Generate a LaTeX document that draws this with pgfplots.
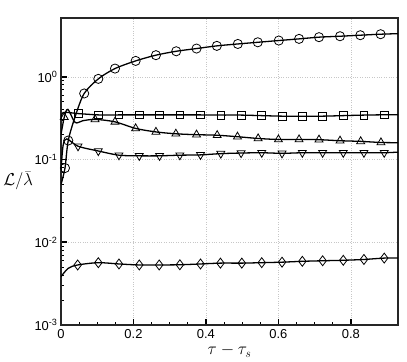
\documentclass[border=0pt]{standalone}
\usepackage{pgfplots}
\pgfplotsset{compat=1.18}
\usepackage{fontspec}
\setmainfont{Liberation Sans}

\begin{document}
\begin{tikzpicture}
\useasboundingbox (-61bp,-37bp) rectangle (346bp,325bp);
\begin{axis}[
    scale only axis,
    width=337bp, height=307bp,
    ymode=log,
    xmin=0, xmax=0.93,
    ymin=1e-3, ymax=5.15,
    xtick={0,0.2,0.4,0.6,0.8},
    xticklabels={0,0.2,0.4,0.6,0.8},
    minor x tick num=3,
    ytick={1e-3,1e-2,1e-1,1},
    yticklabels={10\textsuperscript{-3},10\textsuperscript{-2},10\textsuperscript{-1},10\textsuperscript{0}},
    tick label style={font=\fontsize{13}{15}\selectfont},
    xticklabel style={yshift=-1bp},
    tick align=inside,
    xtick pos=bottom, ytick pos=left,
    major tick length=6bp, minor tick length=3.5bp,
    every tick/.style={black, line width=1pt},
    every major tick/.append style={line width=1.6pt},
    axis line style={line width=1.6pt, black!85},
    grid=major,
    major grid style={black!22, dotted, line width=0.6pt},
    xlabel={$\tau-\tau_s$},
    xlabel style={font=\fontsize{17}{19}\selectfont, at={(axis description cs:0.50,-0.085)}, anchor=center},
    ylabel={$\mathcal{L}/\bar{\lambda}$},
    ylabel style={font=\fontsize{16}{18}\selectfont, rotate=-90, at={(axis description cs:-0.127,0.47)}, anchor=center},
    every axis plot/.append style={black},
]
% circles
\addplot[line width=1.3pt, smooth, tension=0.5, no marks] coordinates {
(0,0.05) (0.011,0.079) (0.020,0.17) (0.04,0.34) (0.064,0.63) (0.103,0.946)
(0.149,1.26) (0.206,1.56) (0.262,1.83) (0.318,2.04) (0.374,2.20) (0.430,2.37)
(0.488,2.50) (0.543,2.62) (0.601,2.75) (0.657,2.88) (0.712,3.02) (0.770,3.10)
(0.826,3.19) (0.882,3.28) (0.93,3.33)};
\addplot[only marks, mark=o, mark size=4.6pt, mark options={line width=0.8pt, fill=none}] coordinates {
(0.011,0.079) (0.020,0.17) (0.064,0.63) (0.103,0.946) (0.149,1.26) (0.206,1.56)
(0.262,1.83) (0.318,2.04) (0.374,2.20) (0.430,2.37) (0.488,2.50) (0.543,2.62)
(0.601,2.75) (0.657,2.88) (0.712,3.02) (0.770,3.10) (0.826,3.19) (0.882,3.28)};
% squares
\addplot[line width=1.3pt, smooth, tension=0.5, no marks] coordinates {
(0,0.30) (0.006,0.37) (0.047,0.36) (0.103,0.347) (0.160,0.347) (0.216,0.347)
(0.272,0.347) (0.328,0.347) (0.385,0.347) (0.441,0.345) (0.497,0.345) (0.554,0.34)
(0.610,0.335) (0.666,0.335) (0.722,0.335) (0.779,0.34) (0.836,0.345) (0.892,0.348)
(0.93,0.348)};
\addplot[only marks, mark=square, mark size=3.9pt, mark options={line width=0.8pt, fill=none}] coordinates {
(0.047,0.36) (0.103,0.347) (0.160,0.347) (0.216,0.347) (0.272,0.347) (0.328,0.347)
(0.385,0.347) (0.441,0.345) (0.497,0.345) (0.554,0.34) (0.610,0.335) (0.666,0.335)
(0.722,0.335) (0.779,0.34) (0.836,0.345) (0.892,0.348)};
% triangles
\addplot[line width=1.3pt, smooth, tension=0.5, no marks] coordinates {
(0,0.2) (0.009,0.325) (0.019,0.405) (0.039,0.281) (0.06,0.295) (0.094,0.306)
(0.149,0.286) (0.206,0.238) (0.262,0.216) (0.317,0.205) (0.374,0.200) (0.431,0.197)
(0.487,0.189) (0.544,0.180) (0.600,0.175) (0.657,0.175) (0.712,0.174) (0.770,0.169)
(0.827,0.166) (0.883,0.161) (0.93,0.160)};
\addplot[only marks, mark=triangle, mark size=4.6pt, mark options={line width=0.8pt, fill=none}] coordinates {
(0.009,0.325) (0.094,0.306) (0.149,0.286) (0.206,0.238) (0.262,0.216) (0.317,0.205)
(0.374,0.200) (0.431,0.197) (0.487,0.189) (0.544,0.180) (0.600,0.175) (0.657,0.175)
(0.712,0.174) (0.770,0.169) (0.827,0.166) (0.883,0.161)};
% inverted triangles
\addplot[line width=1.3pt, smooth, tension=0.5, no marks] coordinates {
(0,0.075) (0.006,0.15) (0.016,0.178) (0.047,0.145) (0.103,0.127) (0.160,0.113)
(0.216,0.111) (0.272,0.111) (0.328,0.113) (0.385,0.114) (0.441,0.118) (0.497,0.120)
(0.554,0.121) (0.610,0.119) (0.666,0.121) (0.722,0.121) (0.779,0.121) (0.836,0.121)
(0.892,0.121) (0.93,0.123)};
\addplot[only marks, mark=triangle, mark size=4.6pt, mark options={rotate=180, line width=0.8pt, fill=none}] coordinates {
(0.047,0.145) (0.103,0.127) (0.160,0.113) (0.216,0.111) (0.272,0.111) (0.328,0.113)
(0.385,0.114) (0.441,0.118) (0.497,0.120) (0.554,0.121) (0.610,0.119) (0.666,0.121)
(0.722,0.121) (0.779,0.121) (0.836,0.121) (0.892,0.121)};
% diamonds
\addplot[line width=1.3pt, smooth, tension=0.5, no marks] coordinates {
(0,0.00384) (0.02,0.00485) (0.046,0.00532) (0.103,0.00567) (0.160,0.00547)
(0.216,0.00532) (0.271,0.00532) (0.328,0.00535) (0.385,0.00547) (0.440,0.0056)
(0.499,0.0056) (0.554,0.00567) (0.610,0.00575) (0.666,0.00589) (0.722,0.00598)
(0.779,0.00606) (0.836,0.0062) (0.892,0.00644) (0.93,0.00644)};
\addplot[only marks, mark=diamond, mark size=5pt, mark options={line width=0.8pt, fill=none}] coordinates {
(0.046,0.00532) (0.103,0.00567) (0.160,0.00547) (0.216,0.00532) (0.271,0.00532)
(0.328,0.00535) (0.385,0.00547) (0.440,0.0056) (0.499,0.0056) (0.554,0.00567)
(0.610,0.00575) (0.666,0.00589) (0.722,0.00598) (0.779,0.00606) (0.836,0.0062)
(0.892,0.00644)};
\end{axis}
\end{tikzpicture}
\end{document}
